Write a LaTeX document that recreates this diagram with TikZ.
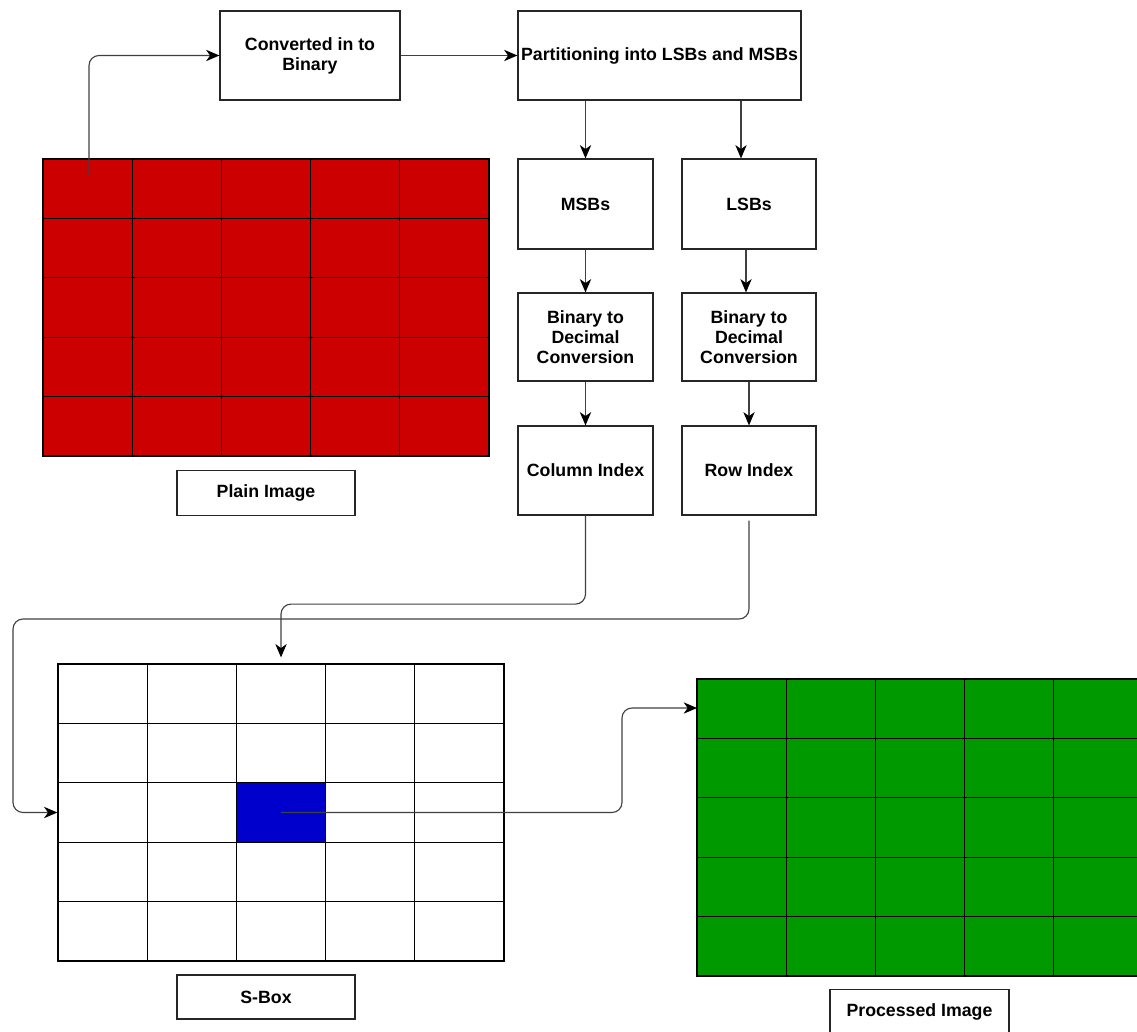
\documentclass[tikz,border=0pt]{standalone}
\usepackage{fontspec}
\setmainfont{Liberation Sans}
\usetikzlibrary{arrows.meta}
\definecolor{imgred}{HTML}{CC0000}
\definecolor{imgblue}{HTML}{0000CC}
\definecolor{imggreen}{HTML}{009900}
\tikzset{
  box/.style={draw=black!85, line width=0.9pt, fill=white, align=center, inner sep=0pt,
    font=\bfseries\fontsize{13.3}{15}\selectfont},
  grid/.style={draw=black, line width=0.95pt, inner sep=0pt,
    minimum width=334.5pt, minimum height=222.75pt},
  gline/.style={draw=black, line width=0.95pt},
  conn/.style={draw=black!75, line width=0.85pt, rounded corners=7.5pt,
    -{Stealth[length=10pt,width=8.5pt,inset=3pt,color=black]}},
}
\begin{document}
\begin{tikzpicture}[x=0.75pt,y=-0.75pt]
\useasboundingbox (0,0) rectangle (1137,1031);

% grids
\node[grid, fill=imgred] (redgrid) at (266,307.5) {};
\foreach \i in {1,...,4} {
  \draw[gline] ({43+\i*89.2},159) -- ({43+\i*89.2},456);
  \draw[gline] (43,{159+\i*59.4}) -- (489,{159+\i*59.4});
}
\node[grid, fill=white] (sbox) at (281,812.5) {};
\node[fill=imgblue, inner sep=0pt, minimum width=66.9pt, minimum height=44.55pt] (blue) at (281,812.5) {};
\foreach \i in {1,...,4} {
  \draw[gline] ({58+\i*89.2},664) -- ({58+\i*89.2},961);
  \draw[gline] (58,{664+\i*59.4}) -- (504,{664+\i*59.4});
}
\node[grid, fill=imggreen] (green) at (920,827.5) {};
\foreach \i in {1,...,4} {
  \draw[gline] ({697+\i*89.2},679) -- ({697+\i*89.2},976);
  \draw[gline] (697,{679+\i*59.4}) -- (1143,{679+\i*59.4});
}

% boxes
\node[box, minimum width=135pt, minimum height=66.75pt] (conv) at (310,55.5) {Converted in to\\Binary};
\node[box, minimum width=212.25pt, minimum height=66.75pt] (part) at (659.5,55.5) {Partitioning into LSBs and MSBs};
\node[box, minimum width=101.25pt, minimum height=67.5pt] (msb) at (585.5,204) {MSBs};
\node[box, minimum width=100.5pt, minimum height=67.5pt] (lsb) at (749,204) {LSBs};
\node[box, minimum width=101.25pt, minimum height=66pt] (b2dl) at (585.5,337) {Binary to\\Decimal\\Conversion};
\node[box, minimum width=100.5pt, minimum height=66pt] (b2dr) at (749,337) {Binary to\\Decimal\\Conversion};
\node[box, minimum width=101.25pt, minimum height=66.75pt] (col) at (585.5,470.5) {Column Index};
\node[box, minimum width=100.5pt, minimum height=66.75pt] (row) at (749,470.5) {Row Index};
\node[box, minimum width=133.5pt, minimum height=33.75pt] (plain) at (266,493) {Plain Image};
\node[box, minimum width=133.5pt, minimum height=33pt] (sblabel) at (266,997) {S-Box};
\node[box, minimum width=134.25pt, minimum height=33.75pt] (proc) at (919.5,1012) {Processed Image};

% helper coordinates
\coordinate (redstart) at (89,175);
\coordinate (lx1) at (741,0);
\coordinate (lx2) at (746,0);
\coordinate (lx3) at (749,0);
\coordinate (rowdown) at (13,619);
\coordinate (bend) at (622,708);
\coordinate (gin) at (697,708);

% connectors
\draw[conn] (redstart) |- (conv.west);
\draw[conn] (conv.east) -- (part.west);
\draw[conn] (part.south -| msb.north) -- (msb.north);
\draw[conn] (part.south -| lx1) -- (lsb.north -| lx1);
\draw[conn] (msb.south) -- (b2dl.north);
\draw[conn] (lsb.south -| lx2) -- (b2dr.north -| lx2);
\draw[conn] (b2dl.south) -- (col.north);
\draw[conn] (b2dr.south -| lx3) -- (row.north -| lx3);
\draw[conn, shorten >=4.5pt] (col.south) -- ++(0,88.5) -| (sbox.north);
\draw[conn] ([yshift=-3.75pt]row.south) |- (rowdown) |- (sbox.west);
\draw[conn] (blue.center) -| (bend) -- (gin);
\end{tikzpicture}
\end{document}
